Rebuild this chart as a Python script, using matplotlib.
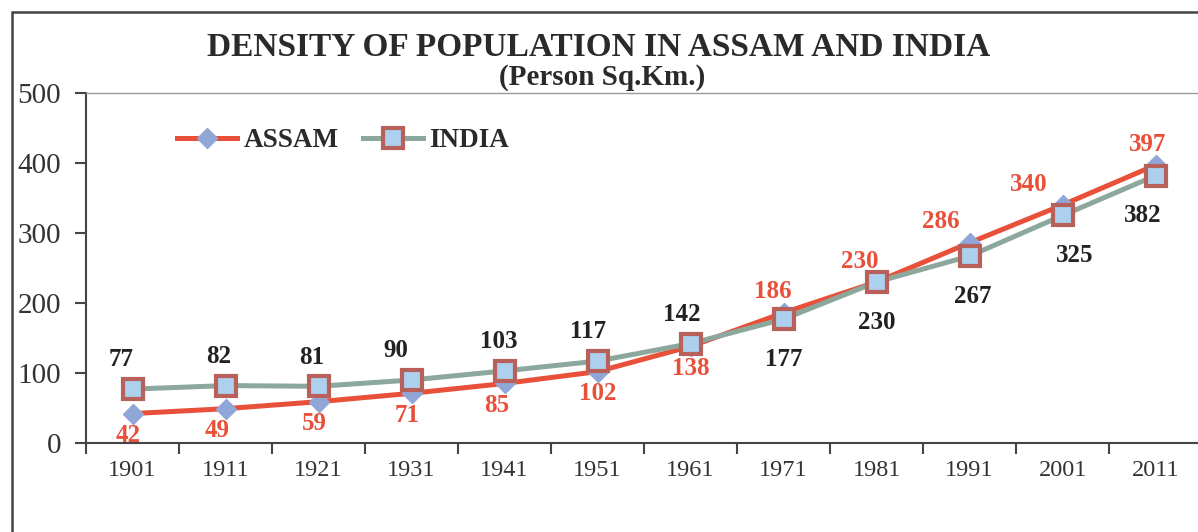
import numpy as np
import matplotlib
matplotlib.use("Agg")
import matplotlib.pyplot as plt
from matplotlib.patches import Rectangle

years = ["1901", "1911", "1921", "1931", "1941", "1951", "1961",
         "1971", "1981", "1991", "2001", "2011"]
assam = [42, 49, 59, 71, 85, 102, 138, 186, 230, 286, 340, 397]
india = [77, 82, 81, 90, 103, 117, 142, 177, 230, 267, 325, 382]

# small horizontal nudges (points) of the value labels, as in the original
assam_dx = [-3, -6, -3, -3, -6, 0, 0, -8, -12, -21, -24, -6]
india_dx = [-8, -5, -5, -11, -4, -7, -6, 0, 0, 2, 9, -9]

plt.rcParams['font.family'] = ['Liberation Serif', 'DejaVu Serif']

fig = plt.figure(figsize=(11.98, 5.32), dpi=100)
ax = fig.add_axes([0.0718, 0.1673, 0.9316, 0.658])

x = np.arange(len(years))
red = '#e8503a'
teal = '#8ca89d'
dark = '#222222'

ax.plot(x, assam, color=red, lw=3.6, marker='D', ms=10,
        mfc='#8fa6d6', mec='#8fa6d6', label='ASSAM', zorder=3)
ax.plot(x, india, color=teal, lw=3.6, marker='s', ms=15,
        mfc='#acd0ee', mec='#b8605a', mew=3, label='INDIA', zorder=4)

# first seven years: INDIA above / ASSAM below, afterwards swapped
for i in range(len(years)):
    if i < 7:
        ia, aa = 21, -16
    else:
        ia, aa = -29, 15
    ax.annotate(str(india[i]), (x[i], india[i]), xytext=(india_dx[i], ia),
                textcoords='offset points', ha='center', va='center',
                fontsize=18, fontweight='bold', color=dark, zorder=5)
    ax.annotate(str(assam[i]), (x[i], assam[i]), xytext=(assam_dx[i], aa),
                textcoords='offset points', ha='center', va='center',
                fontsize=18, fontweight='bold', color=red, zorder=5)

ax.set_xlim(-0.5, len(years) - 0.5)
ax.set_ylim(0, 500)
ax.set_yticks(range(0, 501, 100))
ax.set_xticks(x)
ax.set_xticklabels(years)
ax.set_xticks(np.arange(-0.5, len(years), 1), minor=True)
ax.tick_params(axis='x', which='major', length=0, labelsize=17.5, pad=12,
               labelcolor='#333333')
ax.tick_params(axis='x', which='minor', length=8, width=1.5, color='#444444',
               direction='out')
ax.tick_params(axis='y', length=8, width=1.5, color='#444444',
               labelsize=21, pad=10, labelcolor='#333333')

for s in ['left', 'bottom']:
    ax.spines[s].set_color('#444444')
    ax.spines[s].set_linewidth(1.5)
for s in ['top', 'right']:
    ax.spines[s].set_color('#999999')
    ax.spines[s].set_linewidth(1)

ax.legend(loc='center left', bbox_to_anchor=(0.06, 0.863), ncol=2,
          frameon=False, handlelength=2.2, columnspacing=0.9,
          handletextpad=0.25,
          prop={'family': 'Liberation Serif', 'weight': 'bold', 'size': 19.5})
for t in ax.get_legend().get_texts():
    t.set_color('#2a2a2a')

fig.text(0.5, 0.911, 'DENSITY OF POPULATION IN ASSAM AND INDIA',
         ha='center', va='center', fontsize=24, fontweight='bold',
         color='#2a2a2a')
fig.text(0.503, 0.855, '(Person Sq.Km.)', ha='center', va='center',
         fontsize=21, fontweight='bold', color='#2a2a2a')

fig.patches.append(Rectangle((0.010, -0.1), 1.2, 1.0774,
                             transform=fig.transFigure, fill=False,
                             edgecolor='#444444', lw=1.8))

fig.savefig('out.png', dpi=100)
